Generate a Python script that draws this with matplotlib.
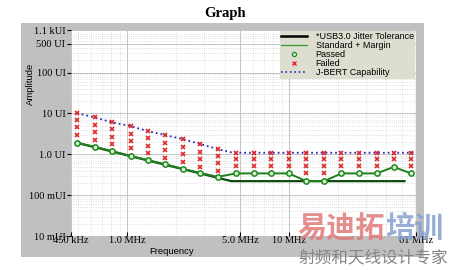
import numpy as np
import matplotlib
matplotlib.use('Agg')
from matplotlib import pyplot as plt
from matplotlib.lines import Line2D
from matplotlib.ticker import FixedLocator, NullFormatter, LogLocator

# data (frequency in MHz, amplitude in UI)
freqs = [0.49, 0.63, 0.81, 1.05, 1.34, 1.72, 2.2, 2.83, 3.63, 4.7,
         6.05, 7.75, 10.0, 12.8, 16.5, 21.1, 27.0, 34.8, 44.5, 56.8]
passed = [1.91, 1.52, 1.20, 0.90, 0.72, 0.57, 0.44, 0.35, 0.28, 0.34,
          0.34, 0.34, 0.34, 0.22, 0.22, 0.34, 0.34, 0.34, 0.49, 0.34]
failed = [
    [10.2, 6.9, 4.6, 3.0],
    [7.98, 5.17, 3.43, 2.26],
    [6.03, 4.06, 2.68, 1.78],
    [4.89, 3.17, 2.10, 1.39],
    [3.69, 2.45, 1.61, 1.05],
    [2.95, 1.91, 1.27, 0.81],
    [2.35, 1.52, 0.995, 0.656],
    [1.78, 1.16, 0.76, 0.50],
    [1.34, 0.89, 0.60, 0.40],
    [1.09, 0.75, 0.51],
    [1.09, 0.75, 0.51],
    [1.09, 0.75, 0.51],
    [1.09, 0.75, 0.51],
    [1.09, 0.75, 0.51, 0.34],
    [1.09, 0.75, 0.51, 0.34],
    [1.09, 0.75, 0.51],
    [1.09, 0.75, 0.51],
    [1.09, 0.75, 0.51],
    [1.09, 0.75],
    [1.09, 0.75, 0.51],
]
spec_f = [0.49, 4.4, 51.8]
spec_a = [1.91, 0.22, 0.22]
jbert_f = [0.49, 0.63, 0.81, 1.05, 1.34, 1.72, 2.2, 2.83, 3.63, 4.5, 61]
jbert_a = [10.2, 7.98, 6.03, 4.89, 3.69, 2.95, 2.35, 1.78, 1.34, 1.09, 1.09]

yticks = [0.01, 0.1, 1.0, 10, 100, 500, 1100]
ylabels = ['10 mUI', '100 mUI', '1.0 UI', '10 UI', '100 UI', '500 UI', '1.1 kUI']
xticks = [0.45, 1.0, 5.0, 10, 61]
xlabels = ['450 kHz', '1.0 MHz', '5.0 MHz', '10 MHz', '61 MHz']

W, H = 450, 270
fig = plt.figure(figsize=(4.5, 2.7), dpi=100, facecolor='white')

# gray panel behind the plot
bg = fig.add_axes([21 / W, 13 / H, 403 / W, 234 / H], zorder=0)
bg.set_facecolor('#c0c0c0')
bg.set_xticks([])
bg.set_yticks([])
for s in bg.spines.values():
    s.set_visible(False)

ax = fig.add_axes([71 / W, 34 / H, 345 / W, 206 / H], zorder=2)
ax.set_facecolor('white')
ax.set_xscale('log')
ax.set_yscale('log')
ax.set_xlim(0.45, 61)
ax.set_ylim(0.01, 1100)

serif = 'Liberation Serif'
sans = 'Liberation Sans'
ax.yaxis.set_major_locator(FixedLocator(yticks))
ax.set_yticklabels(ylabels, fontsize=7.5, family=serif)
ax.xaxis.set_major_locator(FixedLocator(xticks))
ax.set_xticklabels(xlabels, fontsize=7.5, family=serif)
ax.yaxis.set_minor_locator(LogLocator(base=10, subs=np.arange(2, 10)))
ax.xaxis.set_minor_locator(LogLocator(base=10, subs=np.arange(2, 10)))
ax.yaxis.set_minor_formatter(NullFormatter())
ax.xaxis.set_minor_formatter(NullFormatter())
ax.tick_params(axis='y', which='major', length=3, width=0.8, pad=1)
ax.tick_params(axis='x', which='major', direction='in', length=3, width=0.8, pad=0)
ax.tick_params(which='minor', length=0)

ax.grid(True, which='major', color='#c4c4c4', lw=0.7, ls='-')
ax.grid(True, which='minor', color='#d6d6d6', lw=0.6, ls=':')
ax.set_axisbelow(True)
for s in ax.spines.values():
    s.set_visible(False)

# axis titles placed where the reference shows them
fig.text(30 / W, 1 - 84 / H, 'Amplitude', rotation=90, ha='center',
         va='center', fontsize=6.8, family=sans)
fig.text(172 / W, 1 - 251 / H, 'Frequency', ha='center', va='center',
         fontsize=6.8, family=sans)

# curves
ax.plot(jbert_f, jbert_a, color='#2a2ab8', ls=':', lw=1.3, zorder=3)
ax.plot(spec_f, spec_a, color='#0d4a0d', lw=1.6, zorder=4)
ax.plot(freqs, passed, color='#1f7f1f', lw=1.4, zorder=5)
ax.plot(freqs, passed, ls='none', marker='o', ms=3.8, mew=1.1,
        mec='#1f8a1f', mfc='#d8f0d0', zorder=6)
for f, amps in zip(freqs, failed):
    ax.plot([f] * len(amps), amps, ls='none', marker='x', ms=3.4,
            mew=1.2, color='#e02828', zorder=7)

handles = [
    Line2D([], [], color='black', lw=1.8),
    Line2D([], [], color='#2a9a2a', lw=0.9),
    Line2D([], [], ls='none', marker='o', ms=3, mew=0.9, mec='#1f8a1f', mfc='#d8f0d0'),
    Line2D([], [], ls='none', marker='x', ms=3.5, mew=1, color='#e02828'),
    Line2D([], [], color='#2a2ab8', ls=':', lw=1.2),
]
names = ['*USB3.0 Jitter Tolerance', 'Standard + Margin', 'Passed', 'Failed',
         'J-BERT Capability']
leg = ax.legend(handles, names, loc='upper right', frameon=True,
                facecolor='#deded0', edgecolor='none', framealpha=1,
                borderaxespad=0.1, labelspacing=0.0, handlelength=2.8,
                handletextpad=1.0, borderpad=0.15, fancybox=False,
                prop={'family': sans, 'size': 6.5})
leg.set_zorder(10)

fig.text(225 / W, 1 - 14 / H, 'Graph', ha='center', va='center',
         fontsize=10.5, fontweight='bold', family=serif)

# watermark
cjk = ['Noto Sans CJK SC', 'DejaVu Sans']
fig.text(297 / W, 1 - 228 / H, '易迪拓', ha='left', va='center', fontsize=21,
         fontweight='bold', family=cjk, color='#e27a7a', alpha=0.85, zorder=20)
fig.text(385 / W, 1 - 228 / H, '培训', ha='left', va='center', fontsize=21,
         fontweight='bold', family=cjk, color='#86a0cf', alpha=0.85, zorder=20)
fig.text(373 / W, 1 - 258 / H, '射频和天线设计专家', ha='center', va='center',
         fontsize=12, family=cjk, color='#858585', zorder=20)

fig.savefig('out.png', dpi=100, facecolor='white')
